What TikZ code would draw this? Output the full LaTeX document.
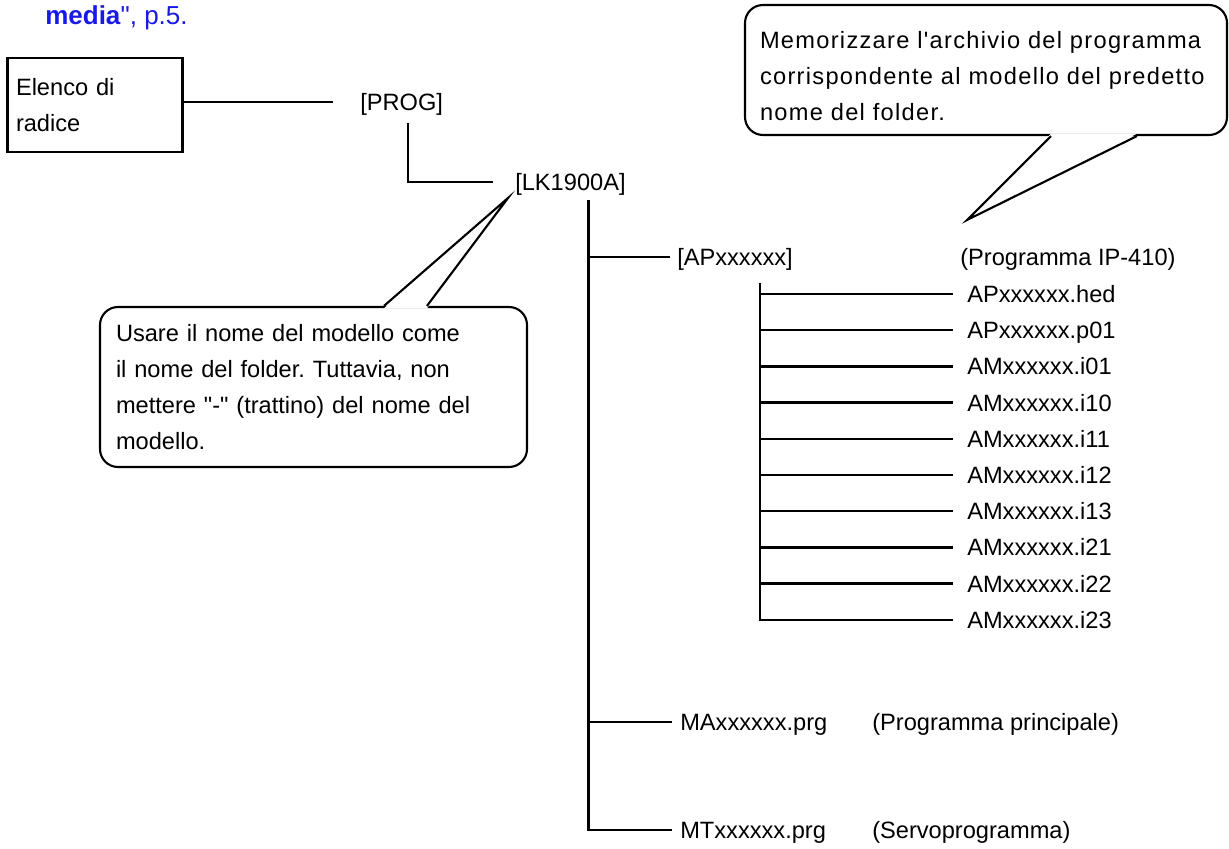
\documentclass[tikz,border=0pt]{standalone}
\usepackage{fontspec}
\setmainfont{Liberation Sans}[Ligatures=TeXOff]
\newfontfamily\widefont[LetterSpace=5.5,Ligatures=TeXOff]{Liberation Sans}
\usetikzlibrary{positioning,calc}
\definecolor{refblue}{RGB}{25,25,230}
\newcommand{\dirsize}{\fontsize{16.8}{25.6}\selectfont\frenchspacing}
\tikzset{
  rootbox/.style={rectangle,draw,line width=1.5pt,minimum width=4.375cm,minimum height=2.35cm,
    text width=3.95cm,align=left,inner xsep=0.2cm},
  dir/.style={inner sep=0pt,anchor=west,text height=0.42cm,text depth=0pt},
  branch/.style={line width=1.7pt},
  note/.style={rectangle,draw,line width=1.5pt,rounded corners=0.45cm,align=left,inner xsep=0.4cm},
  tail/.style={line width=1.5pt,line join=miter},
}

\begin{document}
\begin{tikzpicture}[font=\dirsize]
  \useasboundingbox (0,0) rectangle (30.725,-21.225);
  % rimando in alto (tagliato)
  \node[anchor=base west,inner sep=0pt,text=refblue,font=\fontsize{18.5}{22}\selectfont]
    (ref) at (1.125,-0.625) {\textbf{media}", p.5.};
  % radice -> PROG -> LK1900A
  \node[rootbox] (root) at (2.375,-2.625) {Elenco di\\radice};
  \node[dir] (prog) at (9.0,-2.55) {[PROG]};
  \node[dir] (lk) at (12.875,-4.55) {[LK1900A]};
  \draw[branch] (root.east |- prog.west) -- ([xshift=-0.675cm]prog.west);
  \draw[branch] ([xshift=0.16cm,yshift=-0.31cm]prog.south) |- ([xshift=-0.55cm]lk.west);
  % contenuto di LK1900A
  \node[dir] (ap) at (16.925,-6.425) {[APxxxxxx]};
  \node[dir] (apnote) at (24.0,-6.425) {(Programma IP-410)};
  \node[dir] (ma) at (17.0,-18.05) {MAxxxxxx.prg};
  \node[dir] (manote) at (21.8,-18.05) {(Programma principale)};
  \node[dir] (mt) at (17.0,-20.75) {MTxxxxxx.prg};
  \node[dir] (mtnote) at (21.8,-20.75) {(Servoprogramma)};
  \coordinate (trunk) at ([xshift=0.45cm,yshift=-0.24cm]lk.south);
  \draw[branch] (trunk) |- ([xshift=-0.2cm]mt.west);
  \draw[branch] (trunk |- ap.west) -- ([xshift=-0.175cm]ap.west);
  \draw[branch] (trunk |- ma.west) -- ([xshift=-0.2cm]ma.west);
  % file nel folder APxxxxxx
  \foreach \f [count=\i from 0] in {APxxxxxx.hed,APxxxxxx.p01,AMxxxxxx.i01,AMxxxxxx.i10,
      AMxxxxxx.i11,AMxxxxxx.i12,AMxxxxxx.i13,AMxxxxxx.i21,AMxxxxxx.i22,AMxxxxxx.i23}
    \node[dir] (f\i) at (24.175,{-7.35-0.905*\i}) {\f};
  \coordinate (sub) at ([xshift=0.625cm,yshift=-0.44cm]ap.south);
  \draw[branch] (sub) |- ([xshift=-0.35cm]f9.west);
  \foreach \i in {0,...,8}
    \draw[branch] (sub |- f\i.west) -- ([xshift=-0.35cm]f\i.west);
  % fumetto in alto a destra
  \node[note,minimum width=12.05cm,minimum height=3.25cm,text width=11.3cm,inner xsep=0.375cm,
    font=\widefont\dirsize] (memo) at (24.65,-1.75)
    {\rule{0pt}{0.71cm}Memorizzare l'archivio del programma\\corrispondente al modello del predetto\\nome del folder.};
  \coordinate (memotip) at (24.175,-5.5);
  \fill[white] ([xshift=7.675cm,yshift=0.06cm]memo.south west) -- (memotip)
    -- ([xshift=9.825cm,yshift=0.06cm]memo.south west) -- cycle;
  \draw[tail] ([xshift=7.675cm]memo.south west) -- (memotip) -- ([xshift=9.825cm]memo.south west);
  % fumetto sul nome del folder
  \node[note,minimum width=10.675cm,minimum height=4.0cm,text width=9.875cm]
    (hint) at (7.8375,-9.675) {Usare il nome del modello come\\il nome del folder. Tuttavia, non\\mettere "-" (trattino) del nome del\\modello.};
  \coordinate (hinttip) at (12.7,-4.95);
  \fill[white] ([xshift=7.125cm,yshift=-0.06cm]hint.north west) -- (hinttip)
    -- ([xshift=8.2cm,yshift=-0.06cm]hint.north west) -- cycle;
  \draw[tail] ([xshift=7.125cm]hint.north west) -- (hinttip) -- ([xshift=8.2cm]hint.north west);
\end{tikzpicture}
\end{document}
